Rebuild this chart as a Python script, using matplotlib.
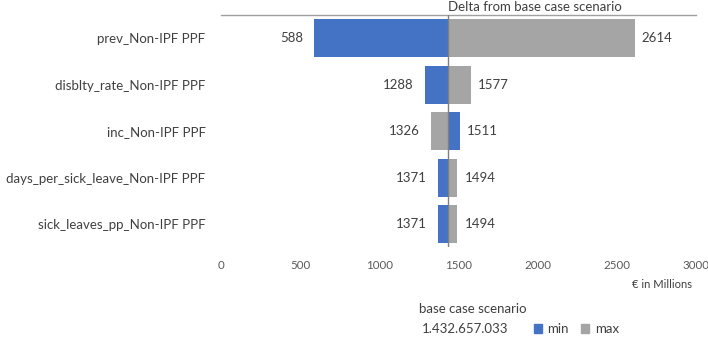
import matplotlib.pyplot as plt
from matplotlib.patches import Patch

# Datos del tornado (valores en millones de €)
categories = ["prev_Non-IPF PPF", "disblty_rate_Non-IPF PPF", "inc_Non-IPF PPF",
              "days_per_sick_leave_Non-IPF PPF", "sick_leaves_pp_Non-IPF PPF"]
min_vals = [588, 1288, 1511, 1371, 1371]
max_vals = [2614, 1577, 1326, 1494, 1494]
base_value = 1432.657033
base_label = "1.432.657.033"
xticks = [0, 500, 1000, 1500, 2000, 2500, 3000]

BLUE = "#4472C4"
GREY = "#A5A5A5"
TEXT = "#404040"

plt.rcParams['font.family'] = ['Lato', 'DejaVu Sans']

fig = plt.figure(figsize=(7.08, 3.37), dpi=100)
ax = fig.add_axes([0.312, 0.266, 0.671, 0.689])

pos = list(range(len(categories)))
ax.barh(pos, [v - base_value for v in min_vals], left=base_value, height=0.82,
        color=BLUE, label="min", zorder=2)
ax.barh(pos, [v - base_value for v in max_vals], left=base_value, height=0.82,
        color=GREY, label="max", zorder=2)

# etiquetas de valor en los extremos
for i, (mn, mx) in enumerate(zip(min_vals, max_vals)):
    lo, hi = min(mn, mx), max(mn, mx)
    ax.annotate(f"{lo}", (lo, i), xytext=(-8, 0), textcoords="offset points",
                ha="right", va="center", fontsize=9.5, color=TEXT)
    ax.annotate(f"{hi}", (hi, i), xytext=(5, 0), textcoords="offset points",
                ha="left", va="center", fontsize=9.5, color=TEXT)

ax.axvline(base_value, color="#808080", linewidth=1, zorder=3)

ax.set_xlim(0, 3000)
ax.set_ylim(4.5, -0.5)
ax.set_xticks(xticks)
ax.set_xticklabels([str(t) for t in xticks], fontsize=8.3, color="#595959")
ax.set_yticks(pos)
ax.set_yticklabels(categories, fontsize=9.5, color=TEXT)
ax.tick_params(axis="both", length=0)
ax.tick_params(axis="y", pad=11)
ax.tick_params(axis="x", pad=9)
for side in ["left", "right", "bottom"]:
    ax.spines[side].set_visible(False)
ax.spines["top"].set_color("#A0A0A0")
ax.spines["top"].set_linewidth(1)

ax.text(base_value, 1.008, "Delta from base case scenario", transform=ax.get_xaxis_transform(),
        ha="left", va="bottom", fontsize=9.5, color=TEXT)

fig.text(692 / 708, 1 - 284 / 337, "€ in Millions", ha="right", va="center",
         fontsize=8, color=TEXT)
fig.text(473 / 708, 1 - 309 / 337, "base case scenario", ha="center", va="center",
         fontsize=9.5, color=TEXT)
fig.text(465 / 708, 1 - 329 / 337, base_label, ha="center", va="center",
         fontsize=9.5, color=TEXT)

handles = [Patch(color=BLUE, label="min"), Patch(color=GREY, label="max")]
fig.legend(handles=handles, loc="center left", bbox_to_anchor=(527 / 708, 1 - 329 / 337),
           ncol=2, frameon=False, fontsize=9.5, handlelength=0.6, handleheight=0.6,
           handletextpad=0.4, columnspacing=1.0, borderpad=0, labelcolor=TEXT)

fig.savefig("out.png", dpi=100)
